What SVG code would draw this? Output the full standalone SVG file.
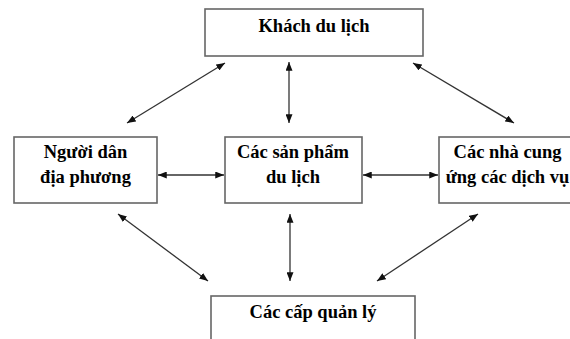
<svg xmlns="http://www.w3.org/2000/svg" width="570" height="339" viewBox="0 0 570 339">
<style>
.box{fill:#fff;stroke:#666;stroke-width:1.6}
.con{stroke:#333;stroke-width:1.3;fill:none;marker-start:url(#ah);marker-end:url(#ah)}
</style>
<defs>
<marker id="ah" viewBox="0 0 10 8" refX="10" refY="4" markerWidth="9" markerHeight="7" markerUnits="userSpaceOnUse" orient="auto-start-reverse">
<path d="M0,0 L10,4 L0,8 Z" fill="#111"/>
</marker>
</defs>
<rect width="570" height="339" fill="#fff"/>
<g id="connectors">
<line class="con" x1="127" y1="123" x2="225" y2="63"/>
<line class="con" x1="289" y1="62" x2="289" y2="123"/>
<line class="con" x1="413" y1="63" x2="514" y2="123"/>
<line class="con" x1="158" y1="175" x2="224" y2="175"/>
<line class="con" x1="363" y1="175" x2="438" y2="175"/>
<line class="con" x1="118" y1="214" x2="208" y2="281"/>
<line class="con" x1="290" y1="214" x2="290" y2="281"/>
<line class="con" x1="478" y1="214" x2="377" y2="281"/>
</g>
<g font-family="Liberation Serif, Times New Roman, serif" font-weight="bold" font-size="18.5" fill="#000" text-anchor="middle">
<g id="khach">
<rect class="box" x="205" y="9" width="218" height="47"/>
<text x="314" y="32">Khách du lịch</text>
</g>
<g id="nguoidan">
<rect class="box" x="14" y="137" width="143" height="66"/>
<text x="85.5" y="158">Người dân</text>
<text x="85.5" y="183">địa phương</text>
</g>
<g id="sanpham">
<rect class="box" x="225" y="137" width="137" height="66"/>
<text x="293" y="158">Các sản phẩm</text>
<text x="293" y="183">du lịch</text>
</g>
<g id="nhacungung">
<rect class="box" x="439" y="137" width="140" height="66"/>
<text x="507.5" y="158">Các nhà cung</text>
<text x="507.5" y="183">ứng các dịch vụ</text>
</g>
<g id="quanly">
<rect class="box" x="211" y="296" width="204" height="60"/>
<text x="313" y="318">Các cấp quản lý</text>
</g>
</g>
</svg>
